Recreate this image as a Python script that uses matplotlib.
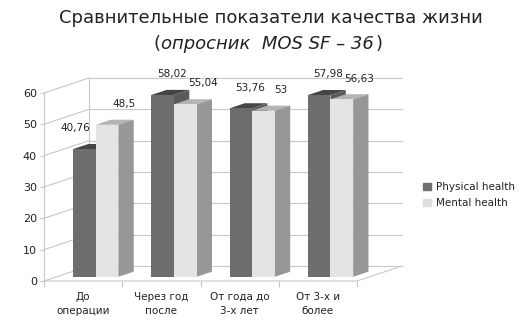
import numpy as np
import matplotlib.pyplot as plt
from matplotlib.patches import Polygon, Patch

plt.rcParams['font.family'] = ['DejaVu Sans']

categories = ['До\nоперации', 'Через год\nпосле', 'От года до\n3-х лет', 'От 3-х и\nболее']
series_names = ['Physical health', 'Mental health']
physical = [40.76, 58.02, 53.76, 57.98]
mental = [48.5, 55.04, 53.0, 56.63]
value_labels = [['40,76', '58,02', '53,76', '57,98'],
                ['48,5', '55,04', '53', '56,63']]
yticks = [0, 10, 20, 30, 40, 50, 60]

# shading: front, top, side
shades = [('#6d6d6d', '#454545', '#5a5a5a'),
          ('#e4e4e4', '#b4b4b4', '#979797')]
grid_c = '#c8c8c8'

W, H = 530, 331
fig = plt.figure(figsize=(W / 100, H / 100), dpi=100)
ax = fig.add_axes([44 / W, (H - 281) / H, (357 - 44) / W, (281 - 93) / H])
ax.set_xlim(0, 4)
ax.set_ylim(0, 60)

# oblique depth vector (full depth) in data units
DX, DY = 0.575, 4.8
d0, d1 = 0.28, 0.62

# walls and floor
for v in yticks:
    ax.plot([DX, 4 + DX], [v + DY, v + DY], color=grid_c, lw=0.8, clip_on=False, zorder=1)
    ax.plot([0, DX], [v, v + DY], color=grid_c, lw=0.8, clip_on=False, zorder=1)
ax.plot([DX, DX], [DY, 60 + DY], color=grid_c, lw=0.8, clip_on=False, zorder=1)
ax.plot([0, 4, 4 + DX], [0, 0, DY], color=grid_c, lw=0.8, clip_on=False, zorder=1)

# bars
x = np.arange(len(categories))
hw = 0.29
for i in x:
    for s, vals in enumerate([physical, mental]):
        v = vals[i]
        x0 = i + 0.5 - hw + s * hw
        x1 = x0 + hw
        front, top, side = shades[s]
        z = 3 + i * 3 + s
        ax.bar(x0 + d0 * DX, v, width=hw, bottom=d0 * DY, align='edge',
               color=front, edgecolor='none', zorder=z + 0.5, clip_on=False)
        ax.add_patch(Polygon([(x0 + d0 * DX, v + d0 * DY), (x1 + d0 * DX, v + d0 * DY),
                              (x1 + d1 * DX, v + d1 * DY), (x0 + d1 * DX, v + d1 * DY)],
                             closed=True, color=top, lw=0, zorder=z, clip_on=False))
        ax.add_patch(Polygon([(x1 + d0 * DX, d0 * DY), (x1 + d1 * DX, d1 * DY),
                              (x1 + d1 * DX, v + d1 * DY), (x1 + d0 * DX, v + d0 * DY)],
                             closed=True, color=side, lw=0, zorder=z, clip_on=False))
        # value label
        cx = (x0 + x1) / 2 + (d0 + d1) / 2 * DX
        off = 1 if s == 0 else 7
        if s == 0 and mental[i] - physical[i] > 5:
            off = -12
        ax.annotate(value_labels[s][i], xy=(cx, v + d0 * DY), xytext=(off, 15),
                    textcoords='offset points', ha='center', va='center',
                    fontsize=7.5, color='#222222', zorder=30, annotation_clip=False)

# axes styling
for sp in ['top', 'right', 'bottom']:
    ax.spines[sp].set_visible(False)
ax.spines['left'].set_color(grid_c)
ax.spines['left'].set_linewidth(0.8)
ax.set_yticks(yticks)
ax.tick_params(axis='y', length=3, color=grid_c, labelsize=8, labelcolor='#222222', pad=2)
ax.set_xticks(np.arange(5))
ax.set_xticklabels([])
ax.set_xticks(x + 0.5, minor=True)
ax.set_xticklabels(categories, minor=True, fontsize=7.5, color='#222222', linespacing=1.5)
ax.tick_params(axis='x', which='major', length=4, color=grid_c)
ax.tick_params(axis='x', which='minor', length=0, pad=8)
ax.patch.set_visible(False)

# legend
handles = [Patch(color='#707070'), Patch(color='#dedede')]
fig.legend(handles, series_names, loc='center left', bbox_to_anchor=(414 / W, 1 - 195 / H),
           frameon=False, fontsize=7.5, handlelength=0.7, handleheight=0.7,
           handletextpad=0.5, labelspacing=0.6, labelcolor='#222222')

# title
fig.text(0.512, 1 - 18 / H, 'Сравнительные показатели качества жизни',
         ha='center', va='center', fontsize=13, color='#222222')
mid = fig.text(0.505, 1 - 44 / H, 'опросник  MOS SF – 36', ha='center', va='center',
               fontsize=13, style='italic', color='#222222')
fig.canvas.draw()
bb = mid.get_window_extent().transformed(fig.transFigure.inverted())
fig.text(bb.x0 - 0.002, 1 - 44 / H, '(', ha='right', va='center', fontsize=13, color='#222222')
fig.text(bb.x1 + 0.002, 1 - 44 / H, ')', ha='left', va='center', fontsize=13, color='#222222')

fig.savefig('out.png', dpi=100)
